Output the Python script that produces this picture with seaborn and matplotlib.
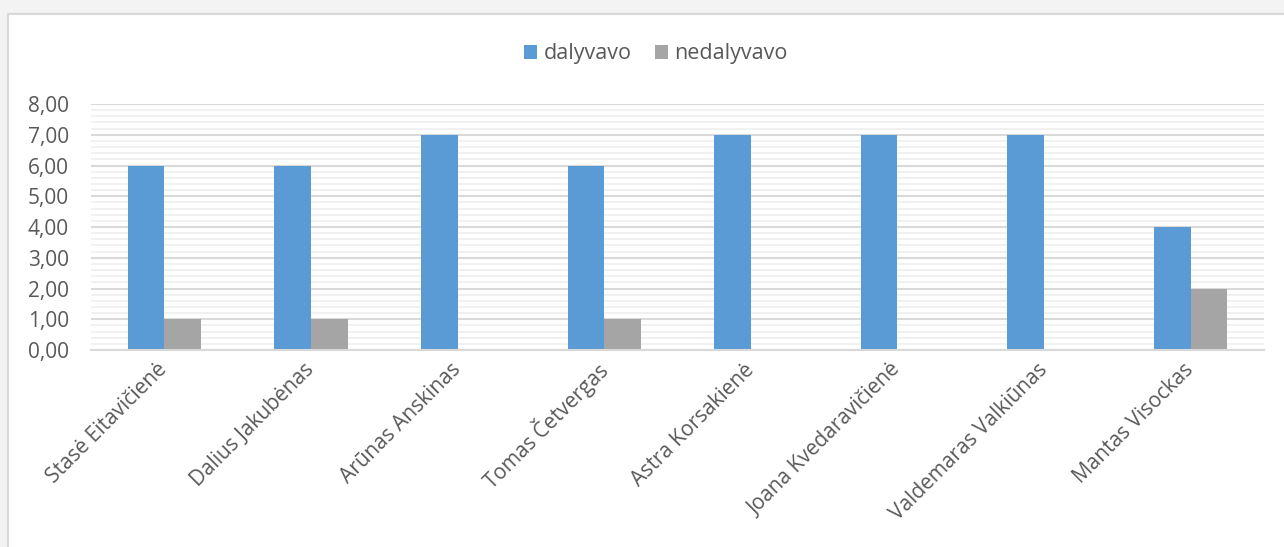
import matplotlib
matplotlib.use("Agg")
import matplotlib.pyplot as plt
import seaborn as sns
import pandas as pd
from matplotlib.ticker import FuncFormatter, MultipleLocator
from matplotlib.patches import Rectangle

names = ["Stasė Eitavičienė", "Dalius Jakubėnas", "Arūnas Anskinas", "Tomas Četvergas",
         "Astra Korsakienė", "Joana Kvedaravičienė", "Valdemaras Valkiūnas", "Mantas Visockas"]
dalyvavo = [6, 6, 7, 6, 7, 7, 7, 4]
nedalyvavo = [1, 1, 0, 1, 0, 0, 0, 2]
series = ["dalyvavo", "nedalyvavo"]
colors = ["#5B9BD5", "#A5A5A5"]

df = pd.DataFrame({
    "name": names * 2,
    "value": dalyvavo + nedalyvavo,
    "series": [series[0]] * len(names) + [series[1]] * len(names),
})

sns.set_theme(style="white")
plt.rcParams["font.family"] = ["Open Sans", "DejaVu Sans"]
txt = "#595959"

fig = plt.figure(figsize=(12.84, 5.47), dpi=100)
fig.patch.set_facecolor("#f3f3f3")
fig.patches.append(Rectangle((8 / 1284, -0.01), 1.0, 1.01 - 14 / 547, transform=fig.transFigure,
                             facecolor="white", edgecolor="#d9d9d9", linewidth=1.5, zorder=-10))

ax = fig.add_axes([91 / 1284, 1 - 350 / 547, 1173 / 1284, 246 / 547])
ax.set_zorder(5)
ax.set_facecolor("none")
sns.barplot(data=df, x="name", y="value", hue="series", palette=colors, width=0.5,
            saturation=1, ax=ax, legend=True, linewidth=0)

ax.set_ylim(0, 8)
ax.set_xlim(-0.5, len(names) - 0.5)
ax.yaxis.set_major_locator(MultipleLocator(1))
ax.yaxis.set_minor_locator(MultipleLocator(0.2))
ax.yaxis.set_major_formatter(FuncFormatter(lambda v, p: f"{v:.2f}".replace(".", ",")))
ax.grid(axis="y", which="major", color="#d9d9d9", linewidth=1.5)
ax.grid(axis="y", which="minor", color="#efefef", linewidth=1.2)
ax.set_axisbelow(True)
for s in ["top", "right", "left"]:
    ax.spines[s].set_visible(False)
ax.spines["bottom"].set_color("#d9d9d9")
ax.spines["bottom"].set_linewidth(1.5)
ax.tick_params(axis="y", which="both", length=0, labelsize=15, colors=txt, pad=16)
ax.tick_params(axis="x", length=0, labelsize=15, colors=txt, pad=12)
plt.setp(ax.get_xticklabels(), rotation=45, ha="right", va="center", rotation_mode="anchor")
ax.set_xlabel("")
ax.set_ylabel("")

h, l = ax.get_legend_handles_labels()
ax.get_legend().remove()
fig.legend(h, l, loc="center", bbox_to_anchor=(656 / 1284, 1 - 54 / 547), ncol=2, frameon=False,
           fontsize=15.5, labelcolor=txt, handlelength=0.6, handleheight=0.6,
           handletextpad=0.3, columnspacing=1.1)

fig.savefig("out.png", dpi=100)
